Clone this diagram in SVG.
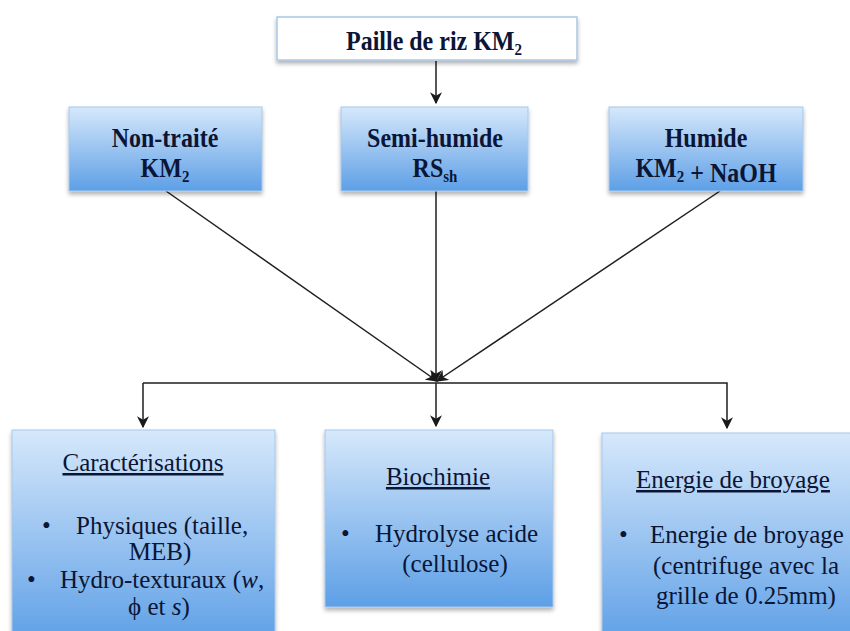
<svg xmlns="http://www.w3.org/2000/svg" width="850" height="631" viewBox="0 0 850 631">
  <defs>
    <linearGradient id="blue" x1="0" y1="0" x2="0" y2="1">
      <stop offset="0" stop-color="#d6e8fb"/>
      <stop offset="1" stop-color="#5d9fe6"/>
    </linearGradient>
    <filter id="sh" x="-10%" y="-10%" width="120%" height="130%">
      <feDropShadow dx="0" dy="3" stdDeviation="2" flood-color="#000" flood-opacity="0.3"/>
    </filter>
    <marker id="ah" viewBox="0 0 10 10" refX="9" refY="5" markerWidth="12" markerHeight="12" markerUnits="userSpaceOnUse" orient="auto">
      <path d="M0,0 L10,5 L0,10 L3,5 z" fill="#1a1a1a"/>
    </marker>
    <style>
      .bx { fill: url(#blue); stroke: #a6c8ec; stroke-width: 1; filter: url(#sh); }
      .tb { fill: #ffffff; stroke: #a9c9e6; stroke-width: 1.5; filter: url(#sh); }
      text { font-family: 'Liberation Serif', 'Times New Roman', Times, serif; }
      .hd { font-weight: bold; font-size: 24px; fill: #0b1535; text-anchor: middle; }
      .bd { font-size: 25px; fill: #0b1535; }
      .ctr { text-anchor: middle; }
      .ul { text-decoration: underline; }
      .ln { fill: none; stroke: #1f1f1f; stroke-width: 1.5; }
    </style>
  </defs>
  <rect width="850" height="631" fill="#ffffff"/>

  <g id="connectors">
    <path class="ln" d="M436,61 V103" marker-end="url(#ah)"/>
    <path class="ln" d="M166,191 L437,381" marker-end="url(#ah)"/>
    <path class="ln" d="M436,191 V381" marker-end="url(#ah)"/>
    <path class="ln" d="M720,191 L437,381" marker-end="url(#ah)"/>
    <path class="ln" d="M143,383 H727 V428" marker-end="url(#ah)"/>
    <path class="ln" d="M143,383 V427" marker-end="url(#ah)"/>
    <path class="ln" d="M436,383 V426" marker-end="url(#ah)"/>
  </g>

  <g id="paille">
    <rect class="tb" x="277" y="17" width="300" height="43"/>
    <text class="hd" transform="translate(434,50) scale(1,1.18)" x="0" y="0">Paille de riz KM<tspan font-size="15" dy="4">2</tspan></text>
  </g>

  <g id="non-traite">
    <rect class="bx" x="69" y="107" width="193" height="84"/>
    <text class="hd" transform="translate(165,147) scale(1,1.18)">Non-traité</text>
    <text class="hd" transform="translate(165,177) scale(1,1.18)">KM<tspan font-size="15" dy="4">2</tspan></text>
  </g>

  <g id="semi-humide">
    <rect class="bx" x="341" y="107" width="187" height="84"/>
    <text class="hd" transform="translate(435,147) scale(1,1.18)">Semi-humide</text>
    <text class="hd" transform="translate(435,177) scale(1,1.18)">RS<tspan font-size="15" dy="4">sh</tspan></text>
  </g>

  <g id="humide">
    <rect class="bx" x="609" y="107" width="194" height="84"/>
    <text class="hd" transform="translate(706,147) scale(1,1.18)">Humide</text>
    <text class="hd" transform="translate(706,177) scale(1,1.18)">KM<tspan font-size="15" dy="4">2</tspan> + NaOH</text>
  </g>

  <g id="caracterisations">
    <rect class="bx" x="12" y="430" width="263" height="215"/>
    <text class="bd ctr ul" x="143" y="471">Caractérisations</text>
    <text class="bd" x="42" y="534">•</text>
    <text class="bd" x="76" y="534">Physiques (taille,</text>
    <text class="bd ctr" x="160" y="560">MEB)</text>
    <text class="bd" x="27" y="588">•</text>
    <text class="bd" x="60" y="588">Hydro-texturaux (<tspan font-style="italic">w</tspan>,</text>
    <text class="bd ctr" x="159" y="615">ϕ et <tspan font-style="italic">s</tspan>)</text>
  </g>

  <g id="biochimie">
    <rect class="bx" x="325" y="430" width="228" height="177"/>
    <text class="bd ctr ul" x="438" y="485">Biochimie</text>
    <text class="bd" x="341" y="542">•</text>
    <text class="bd" x="375" y="542">Hydrolyse acide</text>
    <text class="bd ctr" x="455" y="572">(cellulose)</text>
  </g>

  <g id="energie">
    <rect class="bx" x="602" y="433" width="260" height="212"/>
    <text class="bd ctr ul" x="733" y="488">Energie de broyage</text>
    <text class="bd" x="619" y="543">•</text>
    <text class="bd" x="650" y="543">Energie de broyage</text>
    <text class="bd ctr" x="746" y="574">(centrifuge avec la</text>
    <text class="bd ctr" x="746" y="604">grille de 0.25mm)</text>
  </g>
</svg>
